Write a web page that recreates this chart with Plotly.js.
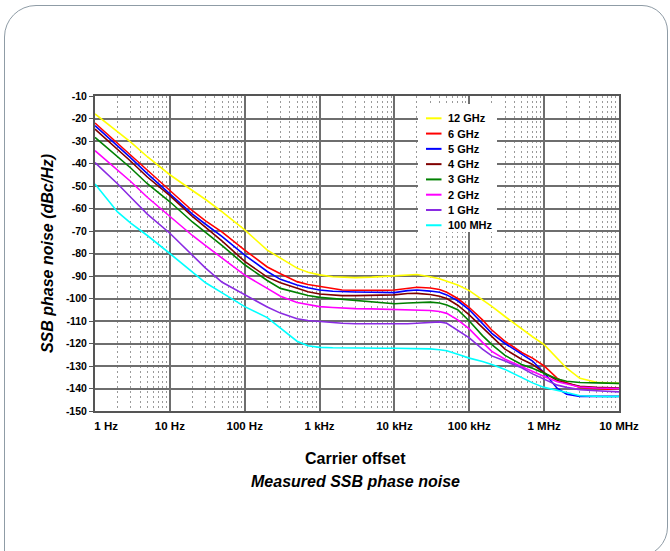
<!DOCTYPE html>
<html><head><meta charset="utf-8">
<script src="https://cdn.plot.ly/plotly-3.0.1.min.js"></script>
<style>
html,body{margin:0;padding:0;background:#fff;overflow:hidden;width:670px;height:551px}
#chart{position:absolute;left:0;top:0;width:670px;height:551px}
#frame{position:absolute;left:4px;top:5px;width:662px;height:550px;border:1.5px solid #8f9ca6;border-radius:32px 26px 30px 0;pointer-events:none}
</style></head><body>
<div id="chart"></div><div id="frame"></div>
<script>
// Carrier offset frequencies (Hz)
const freqHz = [1,2,3,5,10,20,30,50,100,200,300,500,700,1e3,1.5e3,2e3,3e3,5e3,7e3,1e4,1.5e4,2e4,3e4,4e4,5e4,7e4,1e5,1.5e5,2e5,3e5,5e5,7e5,1e6,1.5e6,2e6,3e6,5e6,7e6,1e7];

// SSB phase noise (dBc/Hz) per carrier frequency
const pn12GHz = [-18,-26,-30.5,-37,-45,-52,-56,-61.5,-69.5,-78.5,-82,-86.5,-88.3,-89.5,-90.3,-90.5,-90.7,-90.5,-90.2,-90,-89.6,-89.3,-90.3,-91.2,-92.3,-94,-96.5,-100.5,-103.5,-108,-113.5,-117,-120.5,-126.5,-131,-135.5,-137.2,-137.5,-137.7];
const pn6GHz  = [-22,-31,-36,-43,-52,-61,-65.5,-70.5,-78.5,-86,-89,-92.5,-93.8,-94.7,-95.7,-96.2,-96.3,-96.5,-96.4,-96.2,-95.3,-95,-95.3,-96,-97.2,-100,-104,-109.5,-114,-119,-124,-126.5,-130,-135.5,-137.5,-139.5,-140,-140.3,-140];
const pn5GHz  = [-23.2,-32,-37.5,-44.5,-53.3,-62.5,-67,-72.5,-80.7,-88,-91.5,-94,-95.2,-96.2,-96.8,-97,-97.1,-97.2,-97.3,-97.4,-96.5,-96.2,-96.7,-97.2,-98.4,-101,-105,-111,-115.5,-120,-124.5,-127.8,-133,-140,-142.5,-143.5,-143.5,-143.5,-143.5];
const pn4GHz  = [-24.7,-33.5,-39,-46,-54.3,-63.5,-68.5,-74.5,-83.5,-90.5,-93,-95.5,-97,-98,-98.5,-98.7,-98.7,-98.6,-98.5,-98.4,-97.8,-97.7,-98.2,-99,-100,-103,-107.3,-112.8,-117,-122.5,-127,-129.3,-133,-136.5,-137.7,-139,-139.5,-139.7,-139.8];
const pn3GHz  = [-28.4,-37,-42,-49,-57,-66,-70.5,-76.5,-85,-92,-95.5,-97.5,-98.7,-99.5,-100,-100.3,-101,-101.7,-102,-102.3,-102,-101.8,-101.6,-102,-102.9,-105,-110,-116.5,-120.5,-125.3,-129.3,-131,-133.2,-135.8,-136.8,-137.3,-137.5,-137.6,-137.7];
const pn2GHz  = [-34.3,-43,-48,-55,-63.5,-72,-76.5,-82,-89.6,-95.5,-99,-101.8,-102.8,-103.6,-104,-104.3,-104.5,-104.6,-104.7,-104.7,-104.8,-105,-105.3,-105.8,-106.6,-109.5,-113.5,-119.5,-123.5,-127,-130.3,-132.3,-134.7,-137,-138,-139.3,-139.8,-140,-140];
const pn1GHz  = [-39.6,-49,-55,-62.5,-71,-80.7,-86.5,-92.8,-98.4,-103.8,-106.5,-109,-109.8,-110.3,-110.7,-111,-111.2,-111.3,-111.3,-111.3,-111.2,-111,-110.7,-110.4,-111,-114,-117.5,-122.5,-125.5,-127.8,-130.8,-133.5,-136,-138.5,-139.5,-140.5,-141,-141.3,-141.5];
const pn100MHz= [-49.1,-61.5,-66.5,-72,-80,-88,-93,-97.5,-103.6,-108.5,-113,-119,-121,-121.7,-121.9,-122,-122,-122.1,-122.1,-122.1,-122.2,-122.3,-122.4,-122.8,-123.2,-124.8,-126.5,-128,-129.3,-131.5,-135,-137.5,-139.5,-141,-141.8,-143.2,-143.6,-143.6,-143.5];

const seriesNames = ['12 GHz','6 GHz','5 GHz','4 GHz','3 GHz','2 GHz','1 GHz','100 MHz'];
const seriesColors = ['#ffff00','#ff0000','#0000ff','#800000','#008000','#ff00ff','#8a2be2','#00ffff'];
const seriesValues = [pn12GHz,pn6GHz,pn5GHz,pn4GHz,pn3GHz,pn2GHz,pn1GHz,pn100MHz];

const xTickVals = [1,10,100,1e3,1e4,1e5,1e6,1e7];
const xTickText = ['\u00a0\u00a0\u00a0\u00a0\u00a0\u00a0\u00a01 Hz','10 Hz','100 Hz','1 kHz','10 kHz','100 kHz','1 MHz','10 MHz'];
const yTickVals = [-150,-140,-130,-120,-110,-100,-90,-80,-70,-60,-50,-40,-30,-20,-10];
const yTickText = ['-150','-140','-130','-120','-110','-100','-90','-80','-70','-60','-50','-40','-30','-20','-10'];

const FONT = 'Arial, "Liberation Sans", sans-serif';

const traces = seriesValues.map((v,i)=>({
  x: freqHz, y: v, type:'scatter', mode:'lines', name: seriesNames[i],
  line:{color: seriesColors[i], width:1.6}, showlegend:false, hoverinfo:'skip'
}));

// custom legend (white box + samples + labels), in paper coordinates
const L = 95, R = 619, T = 96, B = 411;
const W = R-L, H = B-T;
const px = v => (v-L)/W, py = v => (B-v)/H;
const shapes = [{type:'rect', xref:'paper', yref:'paper', layer:'above',
  x0:px(418), x1:px(497), y0:py(232), y1:py(104), fillcolor:'#ffffff', line:{width:0}}];
const annotations = [];
seriesNames.forEach((n,i)=>{
  const yy = 118.3 + i*15.28;
  shapes.push({type:'line', xref:'paper', yref:'paper', layer:'above',
    x0:px(426), x1:px(441.5), y0:py(yy), y1:py(yy), line:{color:seriesColors[i], width:2}});
  annotations.push({xref:'paper', yref:'paper', x:px(445.5), y:py(yy), xanchor:'left', yanchor:'middle',
    text:n, showarrow:false, font:{family:FONT, size:11, color:'#000', weight:'bold'}});
});
annotations.push({xref:'paper', yref:'paper', x:px(355), y:py(459), xanchor:'center', yanchor:'middle',
  text:'Carrier offset', showarrow:false, font:{family:FONT, size:16, color:'#000', weight:'bold'}});
annotations.push({xref:'paper', yref:'paper', x:px(355), y:py(481), xanchor:'center', yanchor:'middle',
  text:'Measured SSB phase noise', showarrow:false, font:{family:FONT, size:16, color:'#000', weight:'bold', style:'italic'}});

const layout = {
  width:670, height:551,
  margin:{l:L, r:670-R, t:T, b:551-B, pad:0},
  paper_bgcolor:'#ffffff', plot_bgcolor:'#ffffff',
  showlegend:false,
  xaxis:{type:'log', range:[0,7], tickmode:'array', tickvals:xTickVals, ticktext:xTickText,
    ticks:'', ticklabelstandoff:3, showline:true, linecolor:'#555', linewidth:2, mirror:true,
    showgrid:true, gridcolor:'#6e6e6e', gridwidth:2, zeroline:false,
    tickfont:{family:FONT, size:11.5, color:'#000', weight:'bold'},
    minor:{dtick:'D1', showgrid:true, gridcolor:'#9a9a9a', gridwidth:1, griddash:'2px,3px', ticks:''}},
  yaxis:{range:[-150,-10], tickmode:'array', tickvals:yTickVals, ticktext:yTickText,
    ticks:'outside', ticklen:4, tickcolor:'#555', tickwidth:1,
    showline:true, linecolor:'#555', linewidth:2, mirror:true,
    showgrid:true, gridcolor:'#6e6e6e', gridwidth:2, zeroline:false,
    tickfont:{family:FONT, size:10.5, color:'#000', weight:'bold'},
    title:{text:'SSB phase noise (dBc/Hz)', standoff:8, font:{family:FONT, size:16, color:'#000', weight:'bold', style:'italic'}}},
  shapes: shapes,
  annotations: annotations
};
Plotly.newPlot('chart', traces, layout, {staticPlot:true, displayModeBar:false});
</script>
</body></html>
